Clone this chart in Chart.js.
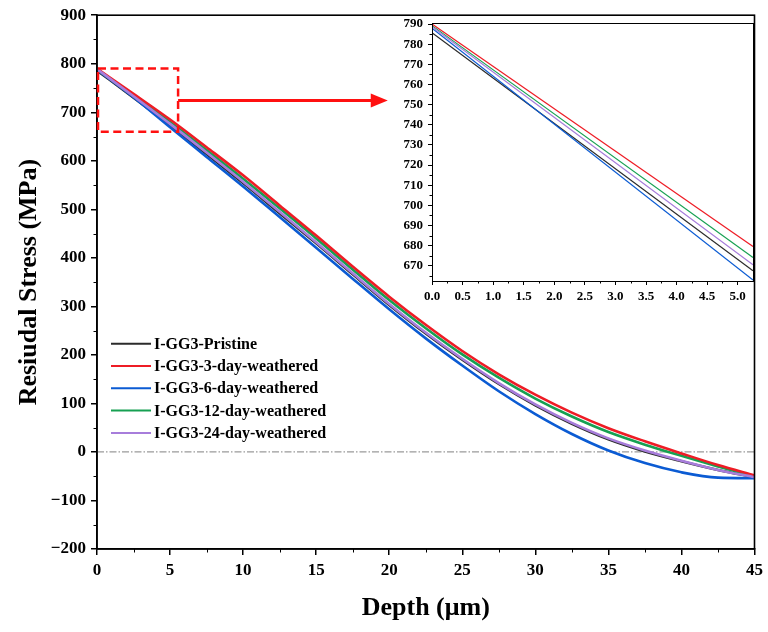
<!DOCTYPE html>
<html>
<head>
<meta charset="utf-8">
<script src="https://cdn.jsdelivr.net/npm/chart.js@4.4.1/dist/chart.umd.min.js"></script>
<style>
  html, body { margin: 0; padding: 0; background: #fff; }
  #wrap { position: relative; width: 768px; height: 632px; }
  #main { position: absolute; left: 0; top: 0; }
  #inset { position: absolute; left: 390px; top: 14px; }
</style>
</head>
<body>
<div id="wrap">
  <canvas id="main" width="768" height="632"></canvas>
  <canvas id="inset" width="372" height="290"></canvas>
</div>
<script>
// depth in µm, stress in MPa
const depth = [0, 2.5, 5, 7.5, 10, 12.5, 15, 17.5, 20, 22.5, 25, 27.5, 30, 32.5, 35, 37.5, 40, 42.5, 45];
const pristine = [786, 730, 673, 614, 554, 492, 430, 366, 303, 244, 190, 140, 96, 58, 26, 1, -19, -37, -52];
const day3     = [790, 738, 685, 628, 570, 508, 446, 382, 320, 262, 208, 160, 118, 81, 49, 22, -3, -27, -48];
const day6     = [788, 731, 669, 608, 547, 484, 421, 357, 294, 234, 178, 125, 78, 37, 3, -23, -42, -53, -54];
const day12    = [789, 734, 680, 622, 563, 502, 440, 376, 313, 255, 201, 153, 110, 73, 41, 15, -8, -30, -50];
const day24    = [789, 733, 676, 617, 557, 495, 432, 368, 305, 246, 192, 142, 98, 60, 28, 3, -18, -37, -52];

// close-up of the first few microns
const insetDepth    = [0, 5.25];
const insetPristine = [785.7, 667.6];
const insetDay3     = [790.0, 679.6];
const insetDay6     = [787.9, 663.0];
const insetDay12    = [789.2, 674.2];
const insetDay24    = [788.6, 670.6];

const names  = ['I-GG3-Pristine', 'I-GG3-3-day-weathered', 'I-GG3-6-day-weathered', 'I-GG3-12-day-weathered', 'I-GG3-24-day-weathered'];
const colors = ['#2b2b2b', '#ee1c25', '#0b5bd3', '#16a052', '#a77ddb'];
// draw order: purple sits over black
const drawOrder = [5, 2, 4, 3, 1];

// zoomed window [x0, x1, y0, y1]
const zoomBox = [0, 5.55, 660, 790];

const serif = "'Liberation Serif', 'Times New Roman', serif";

function pts(xs, ys) {
  return xs.map((x, i) => ({ x: x, y: ys[i] }));
}

function makeSets(xs, series, width) {
  return series.map((ys, i) => ({
    label: names[i],
    data: pts(xs, ys),
    borderColor: colors[i],
    backgroundColor: colors[i],
    borderWidth: width,
    pointRadius: 0,
    cubicInterpolationMode: 'monotone',
    order: drawOrder[i]
  }));
}

function minorTicks(ctx, chart, xs, ys, len) {
  const a = chart.chartArea;
  ctx.save();
  ctx.strokeStyle = '#000';
  ctx.lineWidth = 1;
  ctx.beginPath();
  xs.forEach(v => {
    const px = Math.round(chart.scales.x.getPixelForValue(v)) + 0.5;
    ctx.moveTo(px, a.bottom);
    ctx.lineTo(px, a.bottom + len);
  });
  ys.forEach(v => {
    const py = Math.round(chart.scales.y.getPixelForValue(v)) + 0.5;
    ctx.moveTo(a.left, py);
    ctx.lineTo(a.left - len, py);
  });
  ctx.stroke();
  ctx.restore();
}

const mainDecor = {
  id: 'mainDecor',
  beforeDatasetsDraw(chart) {
    const ctx = chart.ctx, a = chart.chartArea;
    const y0 = chart.scales.y.getPixelForValue(0);
    ctx.save();
    ctx.strokeStyle = '#9a9a9a';
    ctx.lineWidth = 1.3;
    ctx.setLineDash([7, 2, 1.5, 2]);
    ctx.beginPath();
    ctx.moveTo(a.left, y0);
    ctx.lineTo(a.right, y0);
    ctx.stroke();
    ctx.restore();
  },
  afterDraw(chart) {
    const ctx = chart.ctx, a = chart.chartArea;
    const sx = chart.scales.x, sy = chart.scales.y;

    // frame
    ctx.save();
    ctx.strokeStyle = '#000';
    ctx.lineWidth = 1.6;
    ctx.strokeRect(a.left, a.top, a.right - a.left, a.bottom - a.top);
    ctx.restore();

    const mx = [], my = [];
    for (let v = 2.5; v < 45; v += 5) mx.push(v);
    for (let v = -150; v < 900; v += 100) my.push(v);
    minorTicks(ctx, chart, mx, my, 3.5);

    // dashed zoom window and arrow
    const bx0 = sx.getPixelForValue(zoomBox[0]) + 1, bx1 = sx.getPixelForValue(zoomBox[1]);
    const by0 = sy.getPixelForValue(zoomBox[3]), by1 = sy.getPixelForValue(zoomBox[2]);
    ctx.save();
    ctx.strokeStyle = '#ff1010';
    ctx.fillStyle = '#ff1010';
    ctx.lineWidth = 2.5;
    ctx.setLineDash([8, 4.5]);
    ctx.strokeRect(bx0, by0, bx1 - bx0, by1 - by0);
    ctx.setLineDash([]);
    const ay = sy.getPixelForValue(724);
    const tip = sx.getPixelForValue(19.9);
    ctx.lineWidth = 3;
    ctx.beginPath();
    ctx.moveTo(bx1, ay);
    ctx.lineTo(tip - 14, ay);
    ctx.stroke();
    ctx.beginPath();
    ctx.moveTo(tip, ay);
    ctx.lineTo(tip - 17, ay - 7);
    ctx.lineTo(tip - 17, ay + 7);
    ctx.closePath();
    ctx.fill();
    ctx.restore();

    // legend
    ctx.save();
    ctx.font = "bold 16px " + serif;
    ctx.textBaseline = 'middle';
    ctx.fillStyle = '#000';
    chart.data.datasets.forEach((ds, i) => {
      const y = a.top + 328.5 + i * 22.3;
      ctx.strokeStyle = ds.borderColor;
      ctx.lineWidth = 2;
      ctx.beginPath();
      ctx.moveTo(a.left + 14, y);
      ctx.lineTo(a.left + 54, y);
      ctx.stroke();
      ctx.fillText(ds.label, a.left + 57, y + 1);
    });
    ctx.restore();
  }
};

const insetDecor = {
  id: 'insetDecor',
  afterDraw(chart) {
    const ctx = chart.ctx, a = chart.chartArea;
    ctx.save();
    ctx.strokeStyle = '#000';
    ctx.lineWidth = 1;
    ctx.strokeRect(Math.round(a.left) + 0.5, Math.round(a.top) + 0.5, Math.round(a.right - a.left), Math.round(a.bottom - a.top));
    ctx.restore();
    const mx = [], my = [];
    for (let v = 0.25; v < 5.25; v += 0.5) mx.push(v);
    for (let v = 665; v < 790; v += 10) my.push(v);
    minorTicks(ctx, chart, mx, my, 2.5);
  }
};

const axisFont = { family: serif, weight: 'bold', size: 17 };
const minusSign = v => String(v).replace('-', '\u2212');

new Chart(document.getElementById('main'), {
  type: 'line',
  data: { datasets: makeSets(depth, [pristine, day3, day6, day12, day24], 2.6) },
  options: {
    responsive: false,
    animation: false,
    devicePixelRatio: 1,
    layout: { padding: { top: 15, right: 9, left: 0, bottom: 0 } },
    plugins: { legend: { display: false }, tooltip: { enabled: false } },
    scales: {
      x: {
        type: 'linear',
        min: 0, max: 45,
        ticks: { stepSize: 5, color: '#000', font: axisFont, padding: 5, maxRotation: 0 },
        grid: { drawOnChartArea: false, drawTicks: true, tickLength: 6, color: '#000', lineWidth: 1.5 },
        border: { display: true, color: '#000', width: 1.6 },
        title: { display: true, text: 'Depth (μm)', color: '#000', font: { family: serif, weight: 'bold', size: 26 }, padding: { top: 0, bottom: 8 } },
        afterFit(s) { s.height = 83; }
      },
      y: {
        min: -200, max: 900,
        ticks: { stepSize: 100, color: '#000', font: axisFont, padding: 5, callback: minusSign },
        grid: { drawOnChartArea: false, drawTicks: true, tickLength: 6, color: '#000', lineWidth: 1.5 },
        border: { display: true, color: '#000', width: 1.6 },
        title: { display: true, text: 'Resiudal Stress (MPa)', color: '#000', font: { family: serif, weight: 'bold', size: 26 }, padding: { top: 14, bottom: 0 } },
        afterFit(s) { s.width = 97; }
      }
    }
  },
  plugins: [mainDecor]
});

const insetFont = { family: serif, weight: 'bold', size: 13 };

new Chart(document.getElementById('inset'), {
  type: 'line',
  data: { datasets: makeSets(insetDepth, [insetPristine, insetDay3, insetDay6, insetDay12, insetDay24], 1.2) },
  options: {
    responsive: false,
    animation: false,
    devicePixelRatio: 1,
    layout: { padding: { top: 9, right: 9, left: 0, bottom: 0 } },
    plugins: { legend: { display: false }, tooltip: { enabled: false } },
    scales: {
      x: {
        type: 'linear',
        min: 0, max: 5.25,
        ticks: { stepSize: 0.5, includeBounds: false, color: '#000', font: insetFont, padding: 4, maxRotation: 0,
                 callback: v => v.toFixed(1) },
        grid: { drawOnChartArea: false, drawTicks: true, tickLength: 4, color: '#000', lineWidth: 1 },
        border: { display: true, color: '#000', width: 1 },
        afterFit(s) { s.height = 23; s.paddingLeft = 0; s.paddingRight = 0; }
      },
      y: {
        min: 662.5, max: 790.5,
        ticks: { stepSize: 10, includeBounds: false, color: '#000', font: insetFont, padding: 5 },
        grid: { drawOnChartArea: false, drawTicks: true, tickLength: 4, color: '#000', lineWidth: 1 },
        border: { display: true, color: '#000', width: 1 },
        afterFit(s) { s.width = 42; s.paddingTop = 0; s.paddingBottom = 0; }
      }
    }
  },
  plugins: [insetDecor]
});
</script>
</body>
</html>
